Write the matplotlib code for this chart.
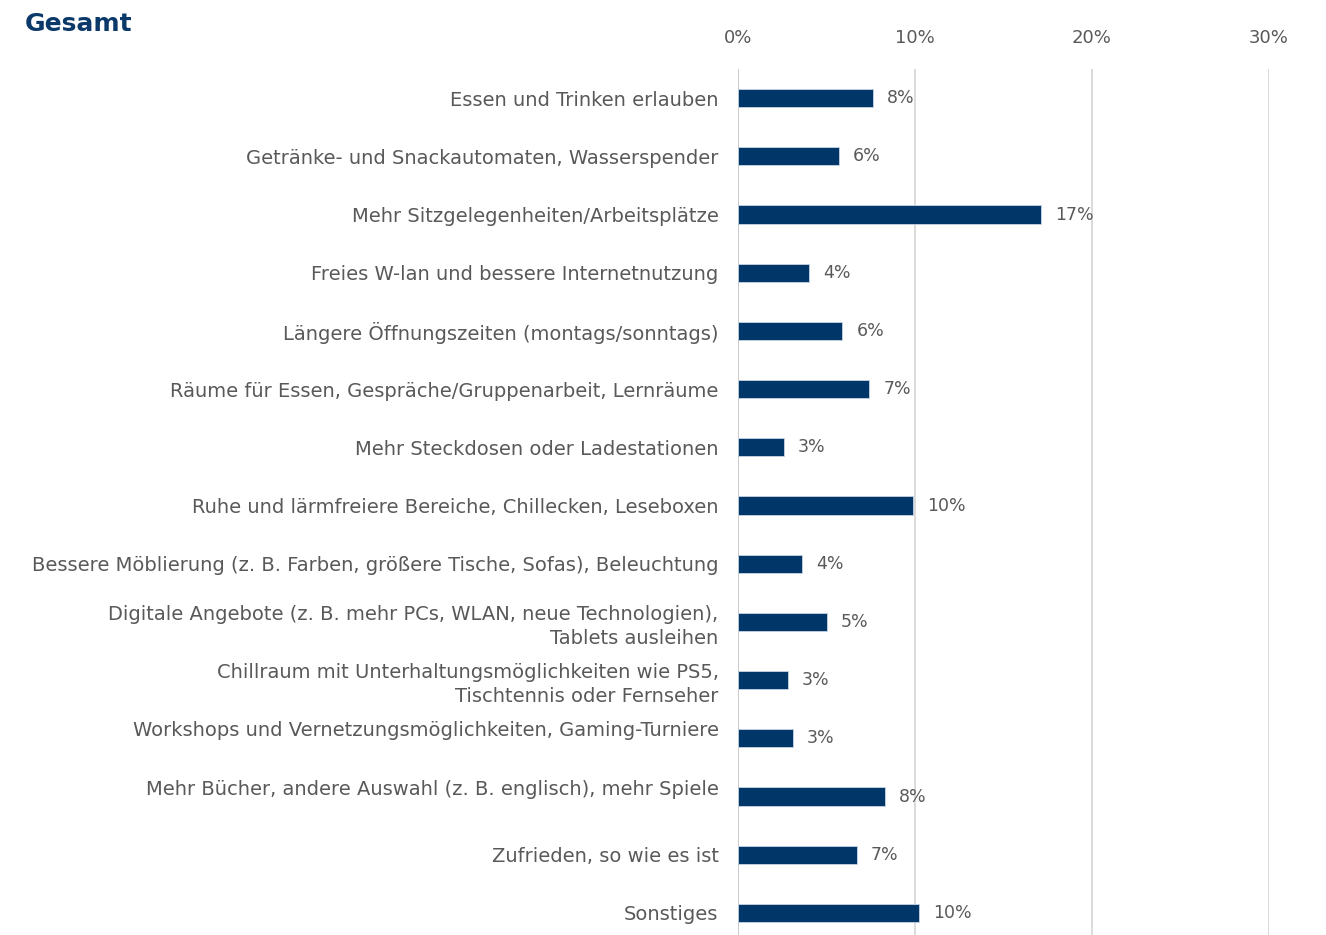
import matplotlib
matplotlib.use("Agg")
import matplotlib.pyplot as plt

categories = [
    "Essen und Trinken erlauben",
    "Getränke- und Snackautomaten, Wasserspender",
    "Mehr Sitzgelegenheiten/Arbeitsplätze",
    "Freies W-lan und bessere Internetnutzung",
    "Längere Öffnungszeiten (montags/sonntags)",
    "Räume für Essen, Gespräche/Gruppenarbeit, Lernräume",
    "Mehr Steckdosen oder Ladestationen",
    "Ruhe und lärmfreiere Bereiche, Chillecken, Leseboxen",
    "Bessere Möblierung (z. B. Farben, größere Tische, Sofas), Beleuchtung",
    "Digitale Angebote (z. B. mehr PCs, WLAN, neue Technologien),\nTablets ausleihen",
    "Chillraum mit Unterhaltungsmöglichkeiten wie PS5,\nTischtennis oder Fernseher",
    "Workshops und Vernetzungsmöglichkeiten, Gaming-Turniere\n ",
    "Mehr Bücher, andere Auswahl (z. B. englisch), mehr Spiele\n ",
    "Zufrieden, so wie es ist",
    "Sonstiges",
]
values = [7.6, 5.7, 17.1, 4.0, 5.9, 7.4, 2.6, 9.9, 3.6, 5.0, 2.8, 3.1, 8.3, 6.7, 10.2]
value_labels = ["8%", "6%", "17%", "4%", "6%", "7%", "3%", "10%", "4%", "5%", "3%", "3%", "8%", "7%", "10%"]
ticks = [0, 10, 20, 30]
tick_labels = ["0%", "10%", "20%", "30%"]

plt.rcParams['font.family'] = ['DejaVu Sans']
gray = "#595959"
navy = "#003768"

fig = plt.figure(figsize=(13.26, 9.35), dpi=100)
ax = fig.add_axes([738/1326, 1 - 942/935, (1269-738)/1326, (942-69)/935])

n = len(categories)
ypos = list(range(n))
ax.barh(ypos, values, height=0.31, color=navy, edgecolor="#c8d4e3", linewidth=0.6, zorder=3)
for y, v, lab in zip(ypos, values, value_labels):
    ax.text(v + 0.8, y, lab, va="center", ha="left", fontsize=12.5, color=gray, zorder=4)

ax.set_ylim(n - 0.5, -0.5)
ax.set_xlim(0, 30)
ax.set_yticks(ypos)
ax.set_yticklabels(categories, fontsize=14, color=gray, linespacing=1.32)
ax.set_xticks(ticks)
ax.set_xticklabels(tick_labels, fontsize=13, color=gray)
ax.xaxis.tick_top()
ax.tick_params(axis="x", length=0, pad=16)
ax.tick_params(axis="y", length=0, pad=14)
for s in ax.spines.values():
    s.set_visible(False)
ax.axvline(0, color="#c8c8c8", linewidth=1.2, zorder=2)
ax.grid(axis="x", color="#d4d4d4", linewidth=1.2, zorder=0)
ax.set_axisbelow(True)

fig.text(25/1326, 1 - 24/935, "Gesamt", fontsize=18, fontweight="bold", color="#0b3a6a", ha="left", va="center")

fig.savefig("out.png", dpi=100)
